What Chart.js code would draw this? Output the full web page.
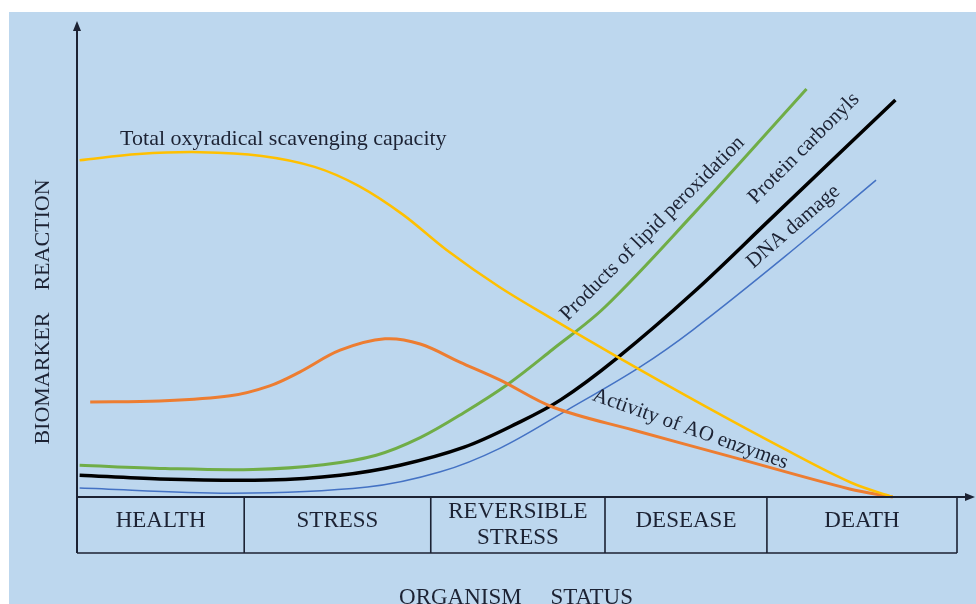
<!DOCTYPE html>
<html>
<head>
<meta charset="utf-8">
<script src="https://cdn.jsdelivr.net/npm/chart.js@4.4.1/dist/chart.umd.min.js"></script>
<style>
  html,body{margin:0;padding:0;background:#fff;}
  #wrap{width:976px;height:604px;position:relative;}
</style>
</head>
<body>
<div id="wrap"><canvas id="c" width="976" height="604"></canvas></div>
<script>
// ---- Data (x: organism status progression 0-100, y: biomarker reaction 0-100) ----
const stageNames = ["HEALTH", "STRESS", "REVERSIBLE\nSTRESS", "DESEASE", "DEATH"];
const stageBounds = [0, 19, 40.2, 60, 78.4, 100];

const toscX = [0.3, 7, 14, 21, 27, 32, 37, 42, 48, 54, 61.4, 71, 80, 88, 92.7];
const toscY = [70.9, 72.2, 72.6, 71.8, 69.5, 65.5, 59.5, 52, 44.2, 37.5, 29.5, 19.5, 10.5, 3, 0];

const aoX = [1.5, 9.4, 17.4, 21.9, 25.3, 29.9, 35.0, 39.0, 43.5, 48.1, 54.1, 63.2, 74.5, 87.8, 92.7];
const aoY = [20.0, 20.2, 21.3, 23.4, 26.3, 30.9, 33.3, 32.2, 28.4, 24.6, 18.9, 14.1, 8.4, 1.7, 0];

const lipidX = [0.3, 10, 20, 28, 34, 39, 44, 49, 54, 60, 70, 82.9];
const lipidY = [6.7, 6.0, 5.8, 6.8, 8.8, 12.5, 17.8, 23.8, 31, 40, 59.5, 85.9];

const protX = [0.3, 9.4, 21.6, 29.9, 36.7, 44, 50, 55, 61.4, 70, 78.8, 93.0];
const protY = [4.6, 3.8, 3.6, 4.6, 6.7, 10.5, 15.5, 20.5, 29.3, 43, 58.5, 83.6];

const dnaX = [0.3, 17.7, 33.0, 41.3, 48.1, 55.7, 64.0, 70.0, 80.5, 90.8];
const dnaY = [1.9, 0.8, 2.1, 5.3, 10.3, 18.3, 27.4, 35.2, 50.7, 66.7];

const seriesNames = ["Total oxyradical scavenging capacity", "Activity of AO enzymes",
  "Products of lipid peroxidation", "Protein carbonyls", "DNA damage"];
const yAxisTitle = "BIOMARKER    REACTION";
const xAxisTitle = "ORGANISM     STATUS";

// ---- helpers ----
const zip = (xs, ys) => xs.map((x, i) => ({x, y: ys[i]}));
const serif = '"Liberation Serif", "DejaVu Serif", serif';
const ink = '#1c2233';

// label anchor positions in data units (x,y), rotation in degrees
const labelPlacement = [
  {x: 4.9, y: 75.4, rot: 0, align: 'left', size: 22},
  {x: 69.7, y: 14.3, rot: 19.5, align: 'center', size: 21},
  {x: 65.4, y: 56.5, rot: -45, align: 'center', size: 21},
  {x: 82.6, y: 73.4, rot: -45, align: 'center', size: 21},
  {x: 81.4, y: 56.9, rot: -41, align: 'center', size: 21}
];

const decor = {
  id: 'decor',
  beforeDraw(chart) {
    const ctx = chart.ctx;
    ctx.save();
    ctx.fillStyle = '#ffffff';
    ctx.fillRect(0, 0, chart.width, chart.height);
    ctx.fillStyle = '#bdd7ee';
    ctx.fillRect(9, 12, chart.width - 9, chart.height - 12);
    ctx.restore();
  },
  afterDatasetsDraw(chart) {
    const ctx = chart.ctx;
    const xs = chart.scales.x, ys = chart.scales.y;
    const x0 = xs.getPixelForValue(0), x1 = xs.getPixelForValue(100);
    const yb = ys.getPixelForValue(0), yt = ys.getPixelForValue(100);
    const tableH = 56;
    ctx.save();
    ctx.strokeStyle = ink;
    ctx.fillStyle = ink;
    // y axis with arrow
    ctx.lineWidth = 2;
    ctx.beginPath();
    ctx.moveTo(x0, yb + tableH);
    ctx.lineTo(x0, yt + 6);
    ctx.stroke();
    ctx.beginPath();
    ctx.moveTo(x0, yt - 1);
    ctx.lineTo(x0 - 4, yt + 9);
    ctx.lineTo(x0 + 4, yt + 9);
    ctx.closePath();
    ctx.fill();
    // x axis with arrow
    ctx.beginPath();
    ctx.moveTo(x0, yb);
    ctx.lineTo(x1 + 10, yb);
    ctx.stroke();
    ctx.beginPath();
    ctx.moveTo(x1 + 18, yb);
    ctx.lineTo(x1 + 8, yb - 4);
    ctx.lineTo(x1 + 8, yb + 4);
    ctx.closePath();
    ctx.fill();
    // table
    ctx.lineWidth = 1.6;
    ctx.beginPath();
    ctx.moveTo(x0, yb + tableH);
    ctx.lineTo(x1, yb + tableH);
    stageBounds.forEach(b => {
      const px = xs.getPixelForValue(b);
      ctx.moveTo(px, yb);
      ctx.lineTo(px, yb + tableH);
    });
    ctx.stroke();
    // stage labels
    ctx.font = '23px ' + serif;
    ctx.textAlign = 'center';
    ctx.textBaseline = 'middle';
    stageNames.forEach((name, i) => {
      const cx = (xs.getPixelForValue(stageBounds[i]) + xs.getPixelForValue(stageBounds[i + 1])) / 2;
      const lines = name.split('\n');
      if (lines.length > 1) {
        const lh = 26;
        const cy = yb + 28 - (lines.length - 1) * lh / 2;
        lines.forEach((ln, j) => ctx.fillText(ln, cx, cy + j * lh));
      } else {
        ctx.fillText(lines[0], cx, yb + 24);
      }
    });
    // series labels
    seriesNames.forEach((name, i) => {
      const p = labelPlacement[i];
      ctx.save();
      ctx.translate(xs.getPixelForValue(p.x), ys.getPixelForValue(p.y));
      ctx.rotate(p.rot * Math.PI / 180);
      ctx.font = p.size + 'px ' + serif;
      ctx.textAlign = p.align;
      ctx.textBaseline = 'middle';
      ctx.fillText(name, 0, 0);
      ctx.restore();
    });
    // axis titles
    ctx.font = '22px ' + serif;
    ctx.save();
    ctx.translate(43, 312);
    ctx.rotate(-Math.PI / 2);
    ctx.textAlign = 'center';
    ctx.textBaseline = 'middle';
    ctx.fillText(yAxisTitle, 0, 0);
    ctx.restore();
    ctx.font = '23px ' + serif;
    ctx.textAlign = 'center';
    ctx.textBaseline = 'alphabetic';
    ctx.fillText(xAxisTitle, 516, 604);
    ctx.restore();
  }
};

const mk = (data, color, w) => ({
  data, borderColor: color, borderWidth: w, pointRadius: 0, fill: false,
  tension: 0.35, clip: false
});

new Chart(document.getElementById('c'), {
  type: 'line',
  data: {
    datasets: [
      mk(zip(toscX, toscY), '#ffc000', 2.5),
      mk(zip(aoX, aoY), '#ed7d31', 3),
      mk(zip(lipidX, lipidY), '#70ad47', 3),
      mk(zip(protX, protY), '#000000', 3.5),
      mk(zip(dnaX, dnaY), '#4472c4', 1.5)
    ]
  },
  options: {
    responsive: false,
    devicePixelRatio: 1,
    animation: false,
    layout: {padding: {left: 77, top: 22, right: 19, bottom: 107}},
    plugins: {legend: {display: false}, tooltip: {enabled: false}},
    scales: {
      x: {type: 'linear', min: 0, max: 100, display: false},
      y: {type: 'linear', min: 0, max: 100, display: false}
    }
  },
  plugins: [decor]
});
</script>
</body>
</html>
